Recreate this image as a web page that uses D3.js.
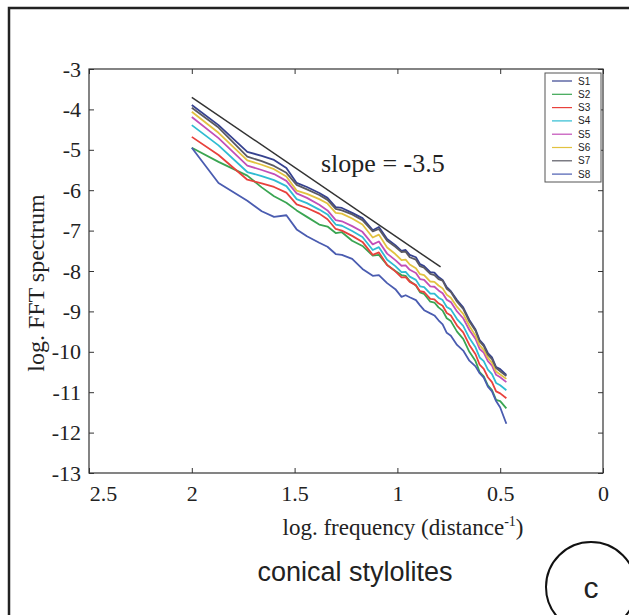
<!DOCTYPE html>
<html>
<head>
<meta charset="utf-8">
<script src="https://cdn.jsdelivr.net/npm/d3@7"></script>
<style>
  body { margin: 0; background: #fff; }
  svg { display: block; }
</style>
</head>
<body>
<script>
// log frequency positions shared by every spectrum
const logFreq = [2.00, 1.87, 1.73, 1.66, 1.60, 1.54, 1.49, 1.44, 1.38, 1.34, 1.30, 1.27, 1.22, 1.17, 1.12,
  1.09, 1.05, 1.01, 0.98, 0.96, 0.94, 0.91, 0.89, 0.87, 0.84, 0.82, 0.80, 0.78, 0.76, 0.74, 0.71, 0.68,
  0.65, 0.62, 0.60, 0.58, 0.56, 0.54, 0.52, 0.50, 0.47];

const s1 = [-3.89, -4.39, -5.05, -5.15, -5.25, -5.45, -5.82, -5.92, -6.07, -6.19, -6.42, -6.44, -6.56, -6.69, -6.99,
  -6.91, -7.21, -7.36, -7.50, -7.48, -7.60, -7.66, -7.83, -7.88, -8.03, -8.04, -8.15, -8.22, -8.40, -8.50, -8.72, -8.90,
  -9.21, -9.45, -9.71, -9.82, -10.03, -10.14, -10.38, -10.43, -10.57];
const s2 = [-4.95, -5.30, -5.64, -5.93, -6.15, -6.31, -6.50, -6.66, -6.85, -6.90, -7.06, -7.04, -7.25, -7.38, -7.62,
  -7.60, -7.85, -8.00, -8.10, -8.12, -8.25, -8.36, -8.53, -8.57, -8.76, -8.78, -8.90, -8.98, -9.17, -9.24, -9.50, -9.68,
  -10.00, -10.23, -10.50, -10.61, -10.83, -10.95, -11.19, -11.22, -11.40];
const s3 = [-4.68, -5.13, -5.74, -5.83, -5.92, -6.06, -6.35, -6.44, -6.58, -6.72, -6.96, -7.00, -7.13, -7.28, -7.60,
  -7.54, -7.85, -8.01, -8.16, -8.15, -8.27, -8.35, -8.50, -8.52, -8.69, -8.70, -8.80, -8.86, -9.04, -9.10, -9.35, -9.52,
  -9.83, -10.06, -10.32, -10.42, -10.63, -10.75, -10.98, -11.03, -11.15];
const s4 = [-4.39, -4.89, -5.55, -5.65, -5.75, -5.90, -6.22, -6.32, -6.48, -6.60, -6.85, -6.88, -7.01, -7.16, -7.48,
  -7.41, -7.72, -7.88, -8.03, -8.02, -8.14, -8.22, -8.38, -8.40, -8.56, -8.56, -8.66, -8.72, -8.89, -8.95, -9.19, -9.36,
  -9.66, -9.89, -10.14, -10.23, -10.44, -10.55, -10.77, -10.83, -10.95];
const s5 = [-4.19, -4.71, -5.39, -5.50, -5.60, -5.77, -6.08, -6.19, -6.36, -6.50, -6.74, -6.77, -6.89, -7.03, -7.34,
  -7.27, -7.57, -7.73, -7.87, -7.86, -7.97, -8.05, -8.20, -8.22, -8.38, -8.39, -8.48, -8.55, -8.71, -8.77, -9.00, -9.17,
  -9.46, -9.68, -9.93, -10.02, -10.23, -10.34, -10.57, -10.63, -10.75];
const s6 = [-4.06, -4.58, -5.26, -5.37, -5.48, -5.66, -6.01, -6.09, -6.22, -6.33, -6.56, -6.58, -6.70, -6.85, -7.17,
  -7.10, -7.42, -7.58, -7.73, -7.72, -7.84, -7.93, -8.08, -8.10, -8.26, -8.27, -8.36, -8.43, -8.59, -8.66, -8.89, -9.06,
  -9.36, -9.60, -9.84, -9.95, -10.15, -10.27, -10.49, -10.56, -10.67];
const s7 = [-3.96, -4.45, -5.17, -5.28, -5.40, -5.57, -5.87, -5.98, -6.12, -6.24, -6.46, -6.50, -6.60, -6.74, -7.02,
  -6.96, -7.25, -7.40, -7.53, -7.52, -7.66, -7.72, -7.88, -7.92, -8.07, -8.10, -8.20, -8.24, -8.44, -8.52, -8.76, -8.94,
  -9.25, -9.48, -9.74, -9.86, -10.07, -10.18, -10.40, -10.48, -10.60];
const s8 = [-4.95, -5.82, -6.26, -6.52, -6.66, -6.62, -6.97, -7.14, -7.30, -7.40, -7.58, -7.60, -7.70, -7.95, -8.12,
  -8.10, -8.30, -8.45, -8.64, -8.60, -8.65, -8.72, -8.85, -8.97, -9.05, -9.10, -9.22, -9.32, -9.53, -9.60, -9.83, -9.97,
  -10.22, -10.36, -10.53, -10.64, -10.86, -10.98, -11.22, -11.38, -11.78];

const seriesNames = ['S1', 'S2', 'S3', 'S4', 'S5', 'S6', 'S7', 'S8'];
const seriesValues = [s1, s2, s3, s4, s5, s6, s7, s8];
const seriesColors = ['#36428f', '#3aa552', '#e8413c', '#2fbcd2', '#c24fb8', '#e2c240', '#5a5a64', '#4a5cb0'];

const slopeLine = [[2.0, -3.7], [0.79, -7.9]];
const xTicks = [2.5, 2, 1.5, 1, 0.5, 0];
const yTicks = [-3, -4, -5, -6, -7, -8, -9, -10, -11, -12, -13];

const width = 629;
const height = 615;
const serif = '"Liberation Serif", "Times New Roman", serif';
const sans = '"Liberation Sans", Arial, sans-serif';

const x = d3.scaleLinear().domain([2.5, 0]).range([89, 603]);
const y = d3.scaleLinear().domain([-13, -3]).range([473, 69]);

const svg = d3.select('body').append('svg')
  .attr('width', width)
  .attr('height', height);

// outer figure frame
svg.append('rect')
  .attr('x', 9).attr('y', 8)
  .attr('width', width + 10).attr('height', height + 10)
  .attr('fill', 'none')
  .attr('stroke', '#222')
  .attr('stroke-width', 2.5);

// axes, MATLAB style: box with inward ticks on all sides
function styleAxis(g, showText) {
  g.select('.domain').remove();
  g.selectAll('line').attr('stroke', '#333');
  g.selectAll('text')
    .attr('fill', '#222')
    .style('font-family', serif)
    .style('font-size', '22px')
    .style('display', showText ? null : 'none');
}

const plain = d => String(d);

svg.append('g')
  .attr('transform', `translate(0,${y(-13)})`)
  .call(d3.axisBottom(x).tickValues(xTicks).tickSizeInner(-5).tickSizeOuter(0).tickPadding(12).tickFormat(plain))
  .call(g => styleAxis(g, true))
  .call(g => g.selectAll('.tick').filter(d => d === 2.5).select('text').attr('dx', 14));

svg.append('g')
  .attr('transform', `translate(0,${y(-3)})`)
  .call(d3.axisTop(x).tickValues(xTicks).tickSizeInner(-5).tickSizeOuter(0))
  .call(g => styleAxis(g, false));

svg.append('g')
  .attr('transform', `translate(${x(2.5)},0)`)
  .call(d3.axisLeft(y).tickValues(yTicks).tickSizeInner(-5).tickSizeOuter(0).tickPadding(8).tickFormat(plain))
  .call(g => styleAxis(g, true));

svg.append('g')
  .attr('transform', `translate(${x(0)},0)`)
  .call(d3.axisRight(y).tickValues(yTicks).tickSizeInner(-5).tickSizeOuter(0))
  .call(g => styleAxis(g, false));

svg.append('rect')
  .attr('x', x(2.5)).attr('y', y(-3))
  .attr('width', x(0) - x(2.5)).attr('height', y(-13) - y(-3))
  .attr('fill', 'none')
  .attr('stroke', '#333')
  .attr('stroke-width', 1.2);

// spectra
const line = d3.line()
  .x((d, i) => x(logFreq[i]))
  .y(d => y(d));

svg.append('g')
  .selectAll('path')
  .data(seriesValues)
  .join('path')
    .attr('d', line)
    .attr('fill', 'none')
    .attr('stroke', (d, i) => seriesColors[i])
    .attr('stroke-width', 1.8)
    .attr('stroke-linejoin', 'round');

svg.append('path')
  .attr('d', d3.line().x(d => x(d[0])).y(d => y(d[1]))(slopeLine))
  .attr('fill', 'none')
  .attr('stroke', '#333')
  .attr('stroke-width', 1.5);

svg.append('text')
  .attr('x', 321).attr('y', 172)
  .style('font-family', serif)
  .style('font-size', '26px')
  .attr('fill', '#222')
  .text('slope = -3.5');

// legend
const legend = svg.append('g');
legend.append('rect')
  .attr('x', 545).attr('y', 73)
  .attr('width', 56).attr('height', 109)
  .attr('fill', '#fff')
  .attr('stroke', '#555');

const item = legend.selectAll('g.item')
  .data(seriesNames)
  .join('g')
    .attr('class', 'item')
    .attr('transform', (d, i) => `translate(0,${81 + i * 13.3})`);

item.append('line')
  .attr('x1', 552).attr('x2', 572)
  .attr('stroke', (d, i) => seriesColors[i])
  .attr('stroke-width', 1.2);

item.append('text')
  .attr('x', 578).attr('y', 3.5)
  .style('font-family', sans)
  .style('font-size', '10px')
  .attr('fill', '#222')
  .text(d => d);

// axis titles
const xTitle = svg.append('text')
  .attr('x', 403).attr('y', 535)
  .attr('text-anchor', 'middle')
  .style('font-family', serif)
  .style('font-size', '23px')
  .attr('fill', '#222');
xTitle.append('tspan').text('log. frequency (distance');
xTitle.append('tspan').attr('dy', -9).style('font-size', '14px').text('-1');
xTitle.append('tspan').attr('dy', 9).text(')');

svg.append('text')
  .attr('transform', 'translate(44,283) rotate(-90)')
  .attr('text-anchor', 'middle')
  .style('font-family', serif)
  .style('font-size', '24px')
  .attr('fill', '#222')
  .text('log. FFT spectrum');

svg.append('text')
  .attr('x', 355).attr('y', 581)
  .attr('text-anchor', 'middle')
  .style('font-family', sans)
  .style('font-size', '27px')
  .attr('fill', '#222')
  .text('conical stylolites');

// panel label
svg.append('circle')
  .attr('cx', 591).attr('cy', 587).attr('r', 45)
  .attr('fill', 'none')
  .attr('stroke', '#111')
  .attr('stroke-width', 2);

svg.append('text')
  .attr('x', 591).attr('y', 598)
  .attr('text-anchor', 'middle')
  .style('font-family', sans)
  .style('font-size', '30px')
  .attr('fill', '#222')
  .text('c');
</script>
</body>
</html>
